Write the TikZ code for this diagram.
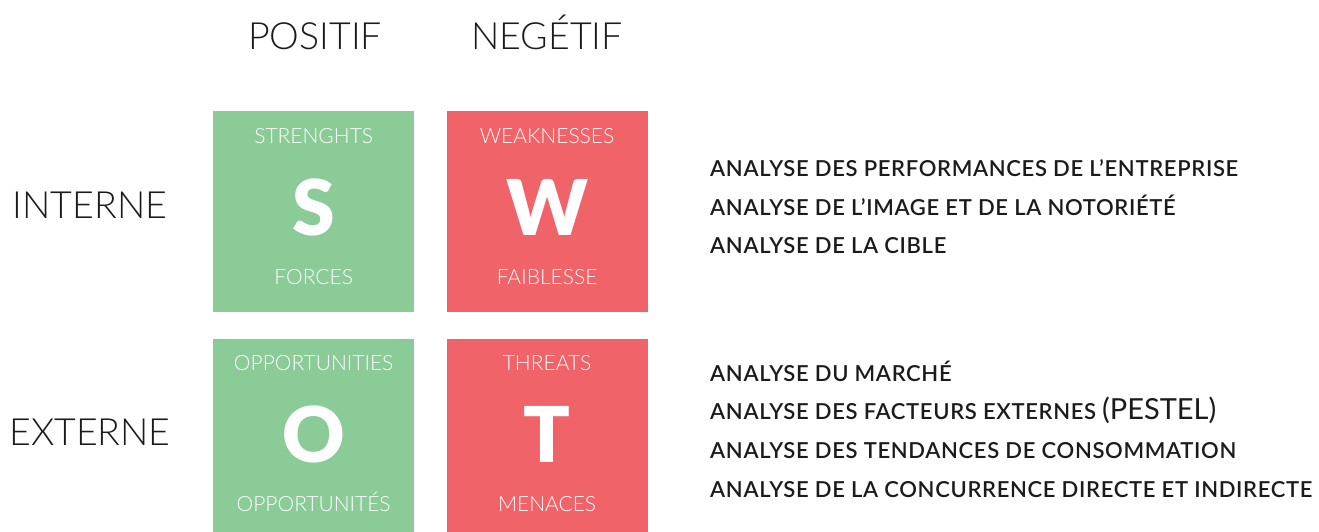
\documentclass[tikz,border=0pt]{standalone}
\usepackage{fontspec}
\setmainfont{Lato}
\newfontfamily\thinfont{Lato Light}
\newfontfamily\midfont[LetterSpace=3]{Lato Semibold}
\newfontfamily\heavyfont{Lato Black}
\usetikzlibrary{positioning,calc}
\definecolor{Leaf}{HTML}{8ACB97}
\definecolor{Coral}{HTML}{F06368}
\definecolor{Ink}{HTML}{1B1B1B}
\tikzset{
  head/.style={anchor=base, inner sep=0pt, text=Ink, font=\thinfont\fontsize{37.5}{42}\selectfont},
  cell/.style={rectangle, minimum size=201pt, inner sep=0pt},
  tag/.style={anchor=base, inner sep=0pt, text=white, font=\thinfont\fontsize{21}{24}\selectfont},
  letter/.style={anchor=base, inner sep=0pt, text=white, font=\heavyfont\fontsize{77}{84}\selectfont},
  item/.style={anchor=base west, inner sep=0pt, text=Ink, font=\midfont\fontsize{22}{25}\selectfont}
}

\begin{document}
\begin{tikzpicture}[x=1pt,y=-1pt]
\useasboundingbox (0,0) rectangle (1319,532);
% column and row heads
\node[head] (pos) at (315,50) {POSITIF};
\node[head] (neg) at (547,50) {NEGÉTIF};
\node[head] (int) at (90,218) {INTERNE};
\node[head] (ext) at (90,445) {EXTERNE};
% the four squares
\node[cell, fill=Leaf, anchor=north west] (S) at (213,111) {};
\node[cell, fill=Coral, right=32pt of S] (W) {};
\node[cell, fill=Leaf, below=26pt of S] (O) {};
\node[cell, fill=Coral, right=32pt of O] (T) {};
\foreach \c/\hd/\ltr/\ft in {S/STRENGHTS/S/FORCES,W/WEAKNESSES/W/FAIBLESSE,O/OPPORTUNITIES/O/OPPORTUNITÉS,T/THREATS/T/MENACES}{
  \node[tag] (\c-hd) at ($(\c.north)+(0,32)$) {\hd};
  \node[letter] (\c-ltr) at ($(\c.north)+(0,124)$) {\ltr};
  \node[tag] (\c-ft) at ($(\c.north)+(0,173)$) {\ft};
}
% what goes into each half
\foreach \y/\txt [count=\i] in {176/ANALYSE DES PERFORMANCES DE L’ENTREPRISE,215/ANALYSE DE L’IMAGE ET DE LA NOTORIÉTÉ,253/ANALYSE DE LA CIBLE}
  \node[item] (in\i) at (710,\y) {\txt};
\foreach \y/\txt [count=\i] in {381/ANALYSE DU MARCHÉ,419/{ANALYSE DES FACTEURS EXTERNES {\normalfont\fontsize{29}{31}\selectfont(PESTEL)}},458/ANALYSE DES TENDANCES DE CONSOMMATION,497/ANALYSE DE LA CONCURRENCE DIRECTE ET INDIRECTE}
  \node[item] (out\i) at (710,\y) {\txt};
\end{tikzpicture}
\end{document}
